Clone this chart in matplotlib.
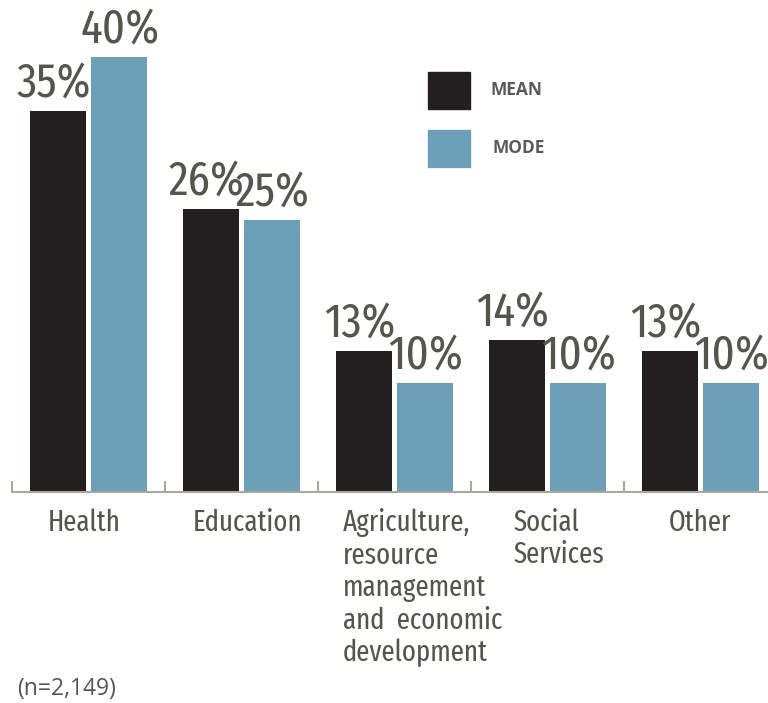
import matplotlib
matplotlib.use("Agg")
import matplotlib.pyplot as plt
import numpy as np

categories = ["Health", "Education", "Agriculture,\nresource\nmanagement\nand  economic\ndevelopment",
              "Social\nServices", "Other"]
mean_vals = [35, 26, 13, 14, 13]
mode_vals = [40, 25, 10, 10, 10]
series_names = ["MEAN", "MODE"]
n_note = "(n=2,149)"

C_MEAN = "#231F20"
C_MODE = "#6DA0B8"
C_TXT = "#55554F"
NARROW = ["Fira Sans Extra Condensed", "DejaVu Sans"]

W, H = 768, 703
fig = plt.figure(figsize=(W / 100, H / 100), dpi=100)
ax = fig.add_axes([12 / W, (H - 492) / H, (W - 12) / W, 492 / H])
ax.set_xlim(-0.5, (W - 12) / 153 - 0.5)
ax.set_ylim(0, 492 / 10.88)

x = np.arange(len(categories))
bw = 56 / 153
off = 30.5 / 153
b1 = ax.bar(x - off, mean_vals, bw, color=C_MEAN, label=series_names[0])
b2 = ax.bar(x + off, mode_vals, bw, color=C_MODE, label=series_names[1])

for bars, vals, dx in ((b1, mean_vals, -3), (b2, mode_vals, 0.5)):
    for r, v in zip(bars, vals):
        ax.annotate(f"{v}%", (r.get_x() + r.get_width() / 2, r.get_height()),
                    xytext=(dx, 3), textcoords="offset points", ha="center", va="bottom",
                    fontsize=35, family=NARROW, color=C_TXT, annotation_clip=False)

for s in ("top", "right", "left"):
    ax.spines[s].set_visible(False)
ax.spines["bottom"].set_color("#A8A8A0")
ax.spines["bottom"].set_linewidth(1.5)
ax.set_yticks([])
ax.set_xticks(np.arange(len(categories)) - 0.5)
ax.set_xticklabels([])
ax.tick_params(axis="x", direction="in", length=8, width=1.5, color="#A8A8A0")

label_cfg = [(-0.03, "center"), (0.04, "center"), (-0.337, "left"), (-0.225, "left"), (0.0, "center")]
for i, (cat, (dx, ha)) in enumerate(zip(categories, label_cfg)):
    ax.text(i + dx, -1.5, cat, ha=ha, va="top", fontsize=21, family=NARROW,
            color=C_TXT, linespacing=1.17, transform=ax.transData, clip_on=False)

fig.patches.append(plt.Rectangle((428 / W, 1 - 109 / H), 42 / W, 37 / H, color=C_MEAN,
                                 transform=fig.transFigure))
fig.patches.append(plt.Rectangle((428 / W, 1 - 167 / H), 42 / W, 37 / H, color=C_MODE,
                                 transform=fig.transFigure))
fig.text(490 / W, 1 - 90 / H, series_names[0], ha="left", va="center", fontsize=12.5,
         fontweight="bold", family="Open Sans", color="#5A5A5A")
fig.text(493 / W, 1 - 148 / H, series_names[1], ha="left", va="center", fontsize=12.5,
         fontweight="bold", family="Open Sans", color="#5A5A5A")

fig.text(17 / W, 1 - 689 / H, n_note, ha="left", va="center", fontsize=16.5,
         family="Open Sans", color="#555555")

fig.savefig("out.png", dpi=100)
